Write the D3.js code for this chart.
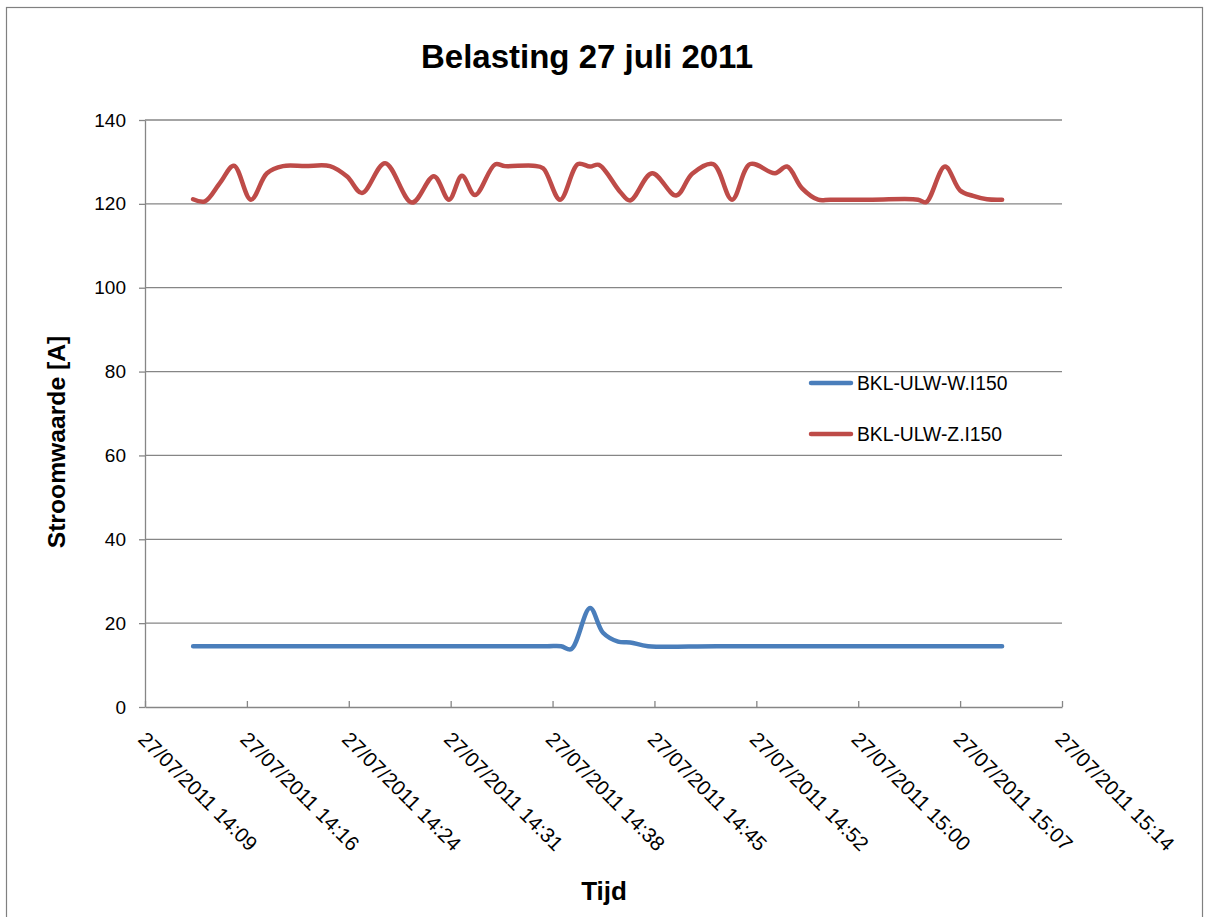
<!DOCTYPE html>
<html>
<head>
<meta charset="utf-8">
<script src="https://cdn.jsdelivr.net/npm/d3@7/dist/d3.min.js"></script>
<style>
  html, body { margin: 0; padding: 0; background: #fff; }
  svg { display: block; font-family: "Liberation Sans", Arial, sans-serif; }
</style>
</head>
<body>
<svg id="chart" width="1207" height="917"></svg>
<script>
// ---- data ----
const title = "Belasting 27 juli 2011";
const yTitle = "Stroomwaarde [A]";
const xTitle = "Tijd";
const seriesNames = ["BKL-ULW-W.I150", "BKL-ULW-Z.I150"];
const seriesColors = ["#4A7EBB", "#BE4B48"];

const yTicks = [0, 20, 40, 60, 80, 100, 120, 140];
const xTickTimes = ["14:09:36", "14:16:48", "14:24:00", "14:31:12", "14:38:24",
                    "14:45:36", "14:52:48", "15:00:00", "15:07:12", "15:14:24"];
const xTickLabels = ["27/07/2011 14:09", "27/07/2011 14:16", "27/07/2011 14:24",
                     "27/07/2011 14:31", "27/07/2011 14:38", "27/07/2011 14:45",
                     "27/07/2011 14:52", "27/07/2011 15:00", "27/07/2011 15:07",
                     "27/07/2011 15:14"];

// BKL-ULW-W.I150 (blue)
const wTimes = ["14:13:00", "14:20:00", "14:30:00", "14:38:00", "14:39:00", "14:39:43",
                "14:41:03", "14:41:58", "14:43:02", "14:43:53", "14:45:09", "14:50:00",
                "15:00:00", "15:10:10"];
const wValues = [14.5, 14.5, 14.5, 14.5, 14.5, 13.8,
                 23.6, 17.7, 15.6, 15.4, 14.5, 14.5,
                 14.5, 14.5];

// BKL-ULW-Z.I150 (red)
const zTimes = ["14:13:00", "14:13:50", "14:14:54", "14:15:53", "14:17:05", "14:18:13",
                "14:19:21", "14:20:55", "14:22:40", "14:23:53", "14:24:56", "14:26:34",
                "14:28:28", "14:30:01", "14:31:05", "14:32:00", "14:32:55", "14:34:20",
                "14:35:02", "14:37:01", "14:37:44", "14:38:56", "14:40:12", "14:41:03",
                "14:41:41", "14:43:10", "14:43:53", "14:45:26", "14:47:08", "14:48:16",
                "14:49:45", "14:51:05", "14:52:22", "14:54:07", "14:54:58", "14:56:02",
                "14:57:10", "14:58:01", "15:01:00", "15:04:14", "15:04:48", "15:06:08",
                "15:07:12", "15:08:07", "15:09:06", "15:10:10"];
const zValues = [121.1, 120.6, 125.0, 129.1, 121.0, 127.3,
                 129.0, 129.0, 129.0, 126.5, 122.6, 129.7,
                 120.3, 126.6, 121.0, 126.7, 122.1, 129.4,
                 129.0, 129.1, 128.5, 121.0, 129.5, 128.9,
                 129.3, 122.9, 120.8, 127.3, 122.0, 127.2,
                 129.5, 121.0, 129.5, 127.3, 128.9, 123.7,
                 121.0, 121.0, 121.0, 121.0, 120.4, 128.9,
                 123.2, 121.9, 121.1, 121.0];

// ---- drawing ----
const parseT = d3.timeParse("%H:%M:%S");
const svg = d3.select("#chart");
const plot = {left: 145, right: 1062, top: 120, bottom: 707};
const gridColor = "#868686";

// chart border
svg.append("rect")
  .attr("x", 6.5).attr("y", 7.5)
  .attr("width", 1196).attr("height", 920)
  .attr("fill", "#fff").attr("stroke", "#808080").attr("stroke-width", 1.2);

const x = d3.scaleTime()
  .domain([parseT(xTickTimes[0]), parseT(xTickTimes[xTickTimes.length - 1])])
  .range([plot.left, plot.right]);
const y = d3.scaleLinear()
  .domain([0, 140])
  .range([plot.bottom, plot.top]);

// gridlines
svg.append("g")
  .selectAll("line")
  .data(yTicks.filter(v => v !== 0))
  .join("line")
  .attr("x1", plot.left).attr("x2", plot.right)
  .attr("y1", d => y(d)).attr("y2", d => y(d))
  .attr("stroke", gridColor).attr("stroke-width", 1.3);

// y axis
const yAxis = svg.append("g")
  .attr("transform", `translate(${plot.left},0)`)
  .call(d3.axisLeft(y).tickValues(yTicks).tickSize(6).tickPadding(13).tickSizeOuter(0));
yAxis.select(".domain").attr("stroke", gridColor).attr("stroke-width", 1.3);
yAxis.selectAll(".tick line").attr("stroke", gridColor).attr("stroke-width", 1.3);
yAxis.selectAll(".tick text")
  .attr("font-size", 19).attr("fill", "#000")
  .attr("font-family", "Liberation Sans, Arial, sans-serif");

// x axis
const xTickDates = xTickTimes.map(parseT);
const xAxis = svg.append("g")
  .attr("transform", `translate(0,${plot.bottom})`)
  .call(d3.axisBottom(x).tickValues(xTickDates).tickSize(-6).tickSizeOuter(0)
        .tickFormat((d, i) => xTickLabels[i]));
xAxis.select(".domain").attr("stroke", gridColor).attr("stroke-width", 1.3);
xAxis.selectAll(".tick line").attr("stroke", gridColor).attr("stroke-width", 1.3);
xAxis.selectAll(".tick text")
  .attr("font-size", 20.5).attr("fill", "#000")
  .attr("font-family", "Liberation Sans, Arial, sans-serif")
  .attr("text-anchor", "start")
  .attr("x", 0).attr("y", 0).attr("dy", "0.72em")
  .attr("transform", "translate(2,23) rotate(45)");

// lines
const line = d3.line()
  .x(d => x(d.t)).y(d => y(d.v))
  .curve(d3.curveCatmullRom.alpha(0.5));

const series = [
  {name: seriesNames[0], color: seriesColors[0],
   data: wTimes.map((t, i) => ({t: parseT(t), v: wValues[i]}))},
  {name: seriesNames[1], color: seriesColors[1],
   data: zTimes.map((t, i) => ({t: parseT(t), v: zValues[i]}))}
];

svg.append("g").selectAll("path")
  .data(series)
  .join("path")
  .attr("d", d => line(d.data))
  .attr("fill", "none")
  .attr("stroke", d => d.color)
  .attr("stroke-width", 4.5)
  .attr("stroke-linejoin", "round")
  .attr("stroke-linecap", "round");

// legend
const legend = svg.append("g");
const legY = [383, 434];
series.forEach((s, i) => {
  legend.append("line")
    .attr("x1", 811).attr("x2", 851)
    .attr("y1", legY[i]).attr("y2", legY[i])
    .attr("stroke", s.color).attr("stroke-width", 4.5)
    .attr("stroke-linecap", "round");
  legend.append("text")
    .attr("x", 857).attr("y", legY[i]).attr("dy", "0.36em")
    .attr("font-size", 19.3).attr("fill", "#000")
    .text(s.name);
});

// titles
svg.append("text")
  .attr("x", 587).attr("y", 68)
  .attr("text-anchor", "middle")
  .attr("font-size", 33).attr("font-weight", "bold")
  .text(title);

svg.append("text")
  .attr("transform", "translate(65,442) rotate(-90)")
  .attr("text-anchor", "middle")
  .attr("font-size", 24.7).attr("font-weight", "bold")
  .text(yTitle);

svg.append("text")
  .attr("x", 604).attr("y", 900)
  .attr("text-anchor", "middle")
  .attr("font-size", 26).attr("font-weight", "bold")
  .text(xTitle);
</script>
</body>
</html>
